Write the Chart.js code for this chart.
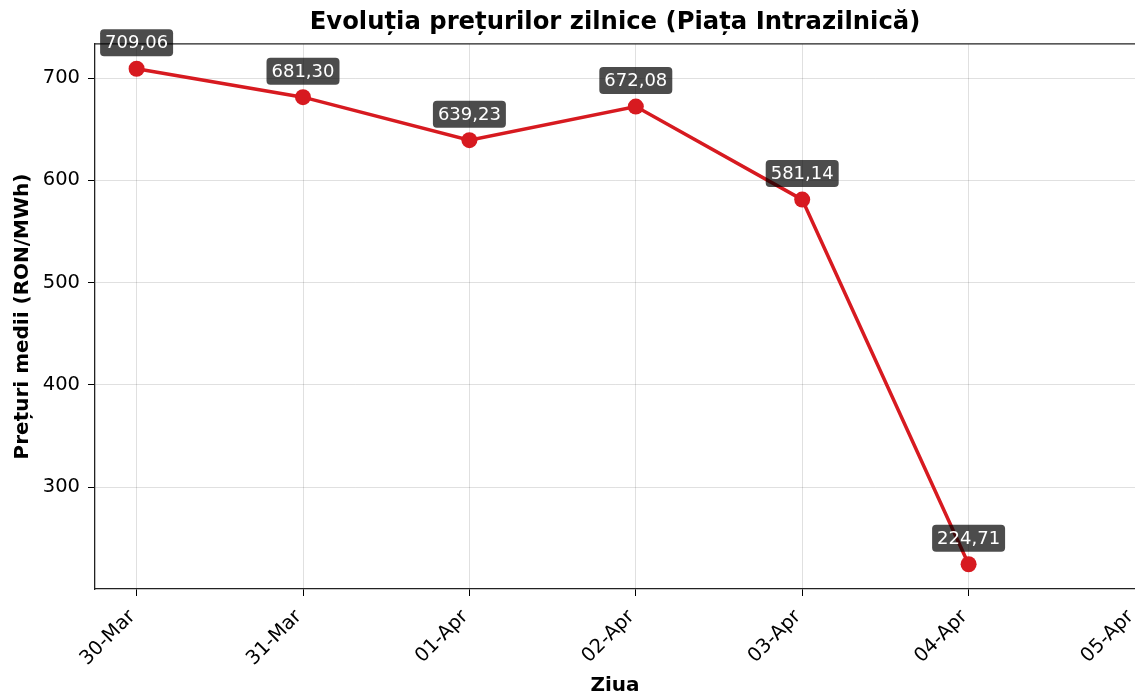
<!DOCTYPE html>
<html>
<head>
<meta charset="utf-8">
<script src="https://cdn.jsdelivr.net/npm/chart.js@4.4.1/dist/chart.umd.min.js"></script>
<style>
  html, body { margin: 0; padding: 0; background: #fff; }
  #wrap { width: 1135px; height: 696px; }
</style>
</head>
<body>
<div id="wrap"><canvas id="priceChart" width="1135" height="696"></canvas></div>
<script>
// Data
const days = ['30-Mar', '31-Mar', '01-Apr', '02-Apr', '03-Apr', '04-Apr', '05-Apr'];
const prices = [709.06, 681.30, 639.23, 672.08, 581.14, 224.71];
const yTicks = [300, 400, 500, 600, 700];

const RED = '#d71a20';
const FONT = "'DejaVu Sans', sans-serif";

// top spine (matplotlib style frame)
const frameTop = {
    id: 'frameTop',
    beforeDatasetsDraw(chart) {
        const { ctx, chartArea } = chart;
        ctx.save();
        ctx.strokeStyle = '#222';
        ctx.lineWidth = 1.3;
        ctx.beginPath();
        ctx.moveTo(chartArea.left, chartArea.top);
        ctx.lineTo(chartArea.right, chartArea.top);
        ctx.stroke();
        ctx.restore();
    }
};

// value boxes above each point
const valueBoxes = {
    id: 'valueBoxes',
    afterDraw(chart) {
        const { ctx } = chart;
        const meta = chart.getDatasetMeta(0);
        ctx.save();
        ctx.font = '18px ' + FONT;
        ctx.textAlign = 'center';
        ctx.textBaseline = 'middle';
        meta.data.forEach((pt, i) => {
            const txt = prices[i].toFixed(2).replace('.', ',');
            const w = ctx.measureText(txt).width + 10;
            const h = 27;
            const cx = pt.x, cy = pt.y - 26;
            ctx.fillStyle = 'rgba(0,0,0,0.7)';
            ctx.beginPath();
            ctx.roundRect(cx - w / 2, cy - h / 2, w, h, 4);
            ctx.fill();
            ctx.fillStyle = '#fff';
            ctx.fillText(txt, cx, cy + 1);
        });
        ctx.restore();
    }
};

const ctx = document.getElementById('priceChart').getContext('2d');
new Chart(ctx, {
    type: 'line',
    data: {
        datasets: [{
            data: prices.map((v, i) => ({ x: i, y: v })),
            borderColor: RED,
            backgroundColor: RED,
            borderWidth: 3.5,
            pointRadius: 8,
            pointBorderWidth: 0,
            pointBackgroundColor: RED,
            tension: 0
        }]
    },
    options: {
        responsive: false,
        animation: false,
        layout: { padding: 0, autoPadding: false },
        plugins: {
            legend: { display: false },
            tooltip: { enabled: false },
            title: {
                display: true,
                text: 'Evoluția prețurilor zilnice (Piața Intrazilnică)',
                fullSize: false,
                color: '#000',
                font: { family: FONT, size: 24.3, weight: 'bold', lineHeight: 1.2 },
                padding: { top: 8, bottom: 6.8 }
            }
        },
        scales: {
            x: {
                type: 'linear',
                min: -0.25,
                max: 6,
                afterFit: s => { s.height = 107; s.paddingRight = 0; s.paddingLeft = 0; },
                ticks: {
                    stepSize: 1,
                    includeBounds: false,
                    autoSkip: false,
                    minRotation: 45,
                    maxRotation: 45,
                    padding: 5,
                    color: '#000',
                    font: { family: FONT, size: 19.5 },
                    callback: v => (days[v] ? days[v] + ' ' : '')
                },
                grid: { color: 'rgba(0,0,0,0.12)', lineWidth: 1, tickColor: '#000', tickLength: 7 },
                border: { display: true, color: '#222', width: 1.3 },
                title: {
                    display: true,
                    text: 'Ziua',
                    color: '#000',
                    font: { family: FONT, size: 20, weight: 'bold', lineHeight: 1.0 },
                    padding: 0
                }
            },
            y: {
                min: 200.5,
                max: 733.3,
                afterFit: s => { s.width = 95; },
                afterBuildTicks: s => { s.ticks = yTicks.map(v => ({ value: v })); },
                ticks: {
                    padding: 8,
                    color: '#000',
                    font: { family: FONT, size: 19.5 }
                },
                grid: { color: 'rgba(0,0,0,0.12)', lineWidth: 1, tickColor: '#000', tickLength: 7 },
                border: { display: true, color: '#222', width: 1.3 },
                title: {
                    display: true,
                    text: 'Prețuri medii (RON/MWh)',
                    color: '#000',
                    font: { family: FONT, size: 20, weight: 'bold', lineHeight: 1.2 },
                    padding: { top: 11, bottom: 0 }
                }
            }
        }
    },
    plugins: [frameTop, valueBoxes]
});
</script>
</body>
</html>
